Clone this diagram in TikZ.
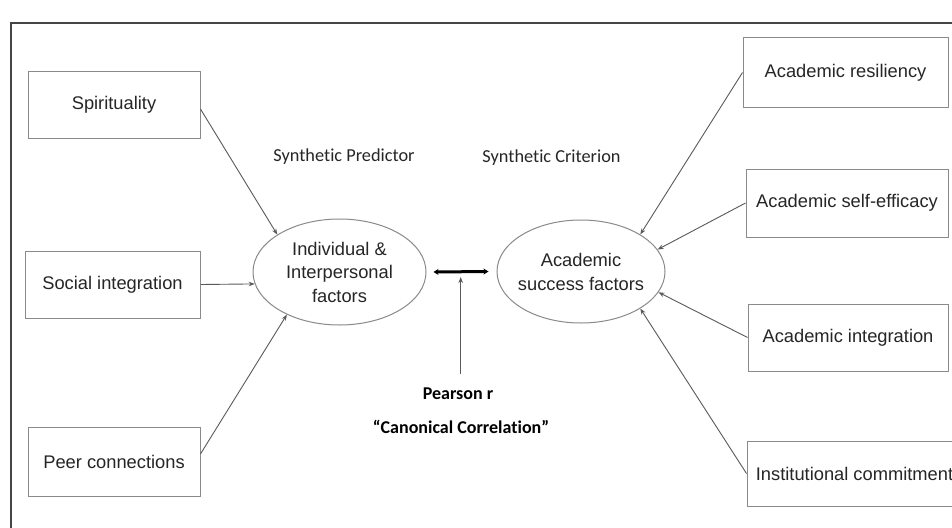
\documentclass[tikz,border=0pt]{standalone}
\usepackage{fontspec}
\setmainfont{Liberation Sans}
\newfontfamily\calib[Ligatures=NoCommon]{Carlito}
\usetikzlibrary{arrows.meta,shapes.geometric,calc}
\definecolor{boxgray}{HTML}{8A8A8A}
\definecolor{linegray}{HTML}{5A5A5A}
\definecolor{txt}{HTML}{262626}
\definecolor{framegray}{HTML}{454545}
\tikzset{
  box/.style={draw=boxgray, line width=1pt, rectangle, inner sep=0pt, text=txt,
    font=\fontsize{18.3}{22}\selectfont},
  ell/.style={draw=boxgray, line width=1pt, ellipse, inner xsep=-14pt, inner ysep=0pt,
    text=txt, align=center, font=\fontsize{18.3}{23.5}\selectfont},
  conn/.style={draw=linegray, line width=0.9pt, -{Stealth[length=6pt,width=4.5pt]}},
  corr/.style={draw=black, line width=3pt, {Stealth[length=5pt,width=6pt]}-{Stealth[length=5pt,width=6pt]}},
  lab/.style={text=txt, inner sep=0pt, font=\calib\fontsize{18.3}{22}\selectfont},
  blab/.style={text=black, inner sep=0pt, font=\calib\bfseries\fontsize{18}{22}\selectfont},
  frame/.style={draw=framegray, line width=2pt}
}
\begin{document}
\begin{tikzpicture}[x=1pt,y=-1pt]
\useasboundingbox (0,0) rectangle (952,527);
\fill[white] (0,0) rectangle (952,527);
\draw[frame] (11,545) -- (11,23) -- (970,23);

% left boxes
\node[box, minimum width=172pt, minimum height=67pt] (spir) at (114,104.5) {Spirituality};
\node[box, minimum width=175pt, minimum height=67pt] (soc) at (112.5,284.5) {Social integration};
\node[box, minimum width=172pt, minimum height=69pt] (peer) at (114,461.5) {Peer connections};

% right boxes
\node[box, minimum width=205pt, minimum height=69pt] (res) at (845.5,72.5) {Academic resiliency};
\node[box, minimum width=202pt, minimum height=68pt] (eff) at (847,203) {Academic self-efficacy};
\node[box, minimum width=200pt, minimum height=67pt] (aint) at (848,337.5) {Academic integration};
\node[box, minimum width=215pt, minimum height=65pt, inner xsep=8pt] (inst) at (854.5,473.5) {Institutional commitment};

% ellipses
\node[ell, minimum width=173pt, minimum height=106pt] (L) at (339.5,272) {Individual \&\\Interpersonal\\factors};
\node[ell, minimum width=168pt, minimum height=103pt, font=\fontsize{18.3}{24}\selectfont] (R) at (581,271.5) {Academic\\success factors};

% labels
\node[lab] (pred) at (344,157) {Synthetic Predictor};
\node[lab] (crit) at (551.5,158) {Synthetic Criterion};
\node[blab] (pearson) at (458,394) {Pearson r};
\node[blab] (canon) at (461,427) {“Canonical Correlation”};

% connectors
\draw[conn] (spir.-3) -- (L.149);
\draw[conn] (soc.east) -- (L.188);
\draw[conn] (peer.5) -- (L.219);
\draw[conn] (res.west) -- (R.32);
\draw[conn] (eff.west) -- (R.16);
\draw[conn] (aint.west) -- (R.-15);
\draw[conn] (inst.west) -- (R.-32);

\draw[corr] ([xshift=7pt]L.east) -- ([xshift=-8pt]R.west);
\coordinate (vbot) at (460.7,374);
\coordinate (vtop) at (460.7,277);
\draw[conn] (vbot) -- (vtop);
\end{tikzpicture}
\end{document}
